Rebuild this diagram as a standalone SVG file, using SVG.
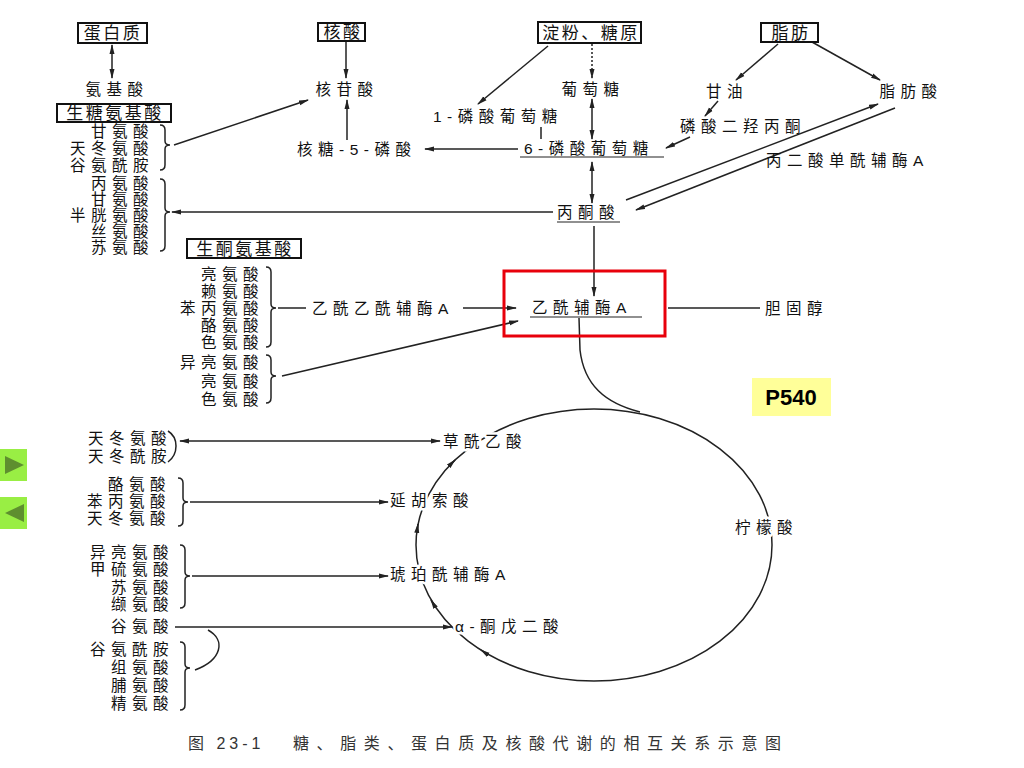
<svg xmlns="http://www.w3.org/2000/svg" width="1024" height="768" viewBox="0 0 1024 768">
<defs>
<style>
.t{font-family:"Liberation Sans","Noto Sans CJK SC","Noto Sans CJK JP",sans-serif;font-size:15.5px;letter-spacing:5.5px;fill:#111}
.b{font-family:"Liberation Sans","Noto Sans CJK SC","Noto Sans CJK JP",sans-serif;font-size:17px;letter-spacing:2.5px;fill:#111;text-anchor:middle}
.e{text-anchor:end}
.m{text-anchor:middle}
.k{stroke:#fff;stroke-width:5px;paint-order:stroke;stroke-linejoin:round}
.box{fill:#fff;stroke:#111;stroke-width:2}
.c{fill:none;stroke:#222;stroke-width:1.5}
.d{stroke-dasharray:2 2}
.ul{stroke:#222;stroke-width:1.2}
.cap{font-family:"Liberation Sans","Noto Sans CJK SC","Noto Sans CJK JP",sans-serif;font-size:16px;letter-spacing:7.6px;fill:#333}
.fig{letter-spacing:4px}
</style>
<marker id="a" viewBox="0 0 10 6" refX="9" refY="3" markerWidth="10" markerHeight="6" orient="auto-start-reverse" markerUnits="userSpaceOnUse"><path d="M0,0.5 L10,3 L0,5.5 z" fill="#222"/></marker>
</defs>
<rect width="1024" height="768" fill="#fff"/>

<g id="connectors">
<path class="c" d="M112,45 L112,78" marker-start="url(#a)" marker-end="url(#a)"/>
<path class="c" d="M346,42 L346,78" marker-end="url(#a)"/>
<path class="c" d="M347,140 L347,100" marker-end="url(#a)"/>
<path class="c" d="M174,145 L308,100" marker-end="url(#a)"/>
<path class="c" d="M518,149 L425,149" marker-end="url(#a)"/>
<path class="c" d="M548,46 L478,104" marker-end="url(#a)"/>
<path class="c d" d="M592,44 L592,78" marker-end="url(#a)"/>
<path class="c" d="M541,127 L541,139"/>
<path class="c" d="M592,99 L592,139" marker-start="url(#a)" marker-end="url(#a)"/>
<path class="c" d="M592,162 L592,203" marker-start="url(#a)" marker-end="url(#a)"/>
<path class="c" d="M594,226 L594,296" marker-end="url(#a)"/>
<path class="c" d="M778,44 L736,80" marker-end="url(#a)"/>
<path class="c" d="M812,42 L880,80" marker-end="url(#a)"/>
<path class="c" d="M718,101 L705,116" marker-end="url(#a)"/>
<path class="c" d="M690,137 L666,148" marker-end="url(#a)"/>
<path class="c" d="M626,200 L878,104" marker-end="url(#a)"/>
<path class="c" d="M895,108 L636,210" marker-end="url(#a)"/>
<path class="c" d="M553,212 L172,212" marker-end="url(#a)"/>
<path class="c" d="M278,308 L306,308"/>
<path class="c" d="M463,308 L516,308" marker-end="url(#a)"/>
<path class="c" d="M668,308 L760,308"/>
<path class="c" d="M282,376 L518,321" marker-end="url(#a)"/>
<path class="c" d="M579,318 L580,350 C584,385 605,403 640,412"/>
<ellipse class="c" cx="594" cy="545" rx="178" ry="136"/>
<path class="c" d="M450,465 L455,460" marker-end="url(#a)"/>
<path class="c" d="M417,531 L418,524" marker-end="url(#a)"/>
<path class="c" d="M434,605 L431,600" marker-end="url(#a)"/>
<path class="c" d="M487,654 L481,650" marker-end="url(#a)"/>
<path class="c" d="M440,441 L180,441" marker-start="url(#a)" marker-end="url(#a)"/>
<path class="c" d="M190,502 L388,502" marker-end="url(#a)"/>
<path class="c" d="M192,576 L388,576" marker-end="url(#a)"/>
<path class="c" d="M175,627 L452,627" marker-end="url(#a)"/>
<path class="c" d="M208,630 C226,640 222,660 195,670"/>
</g>

<g id="n-protein"><rect class="box" x="78" y="23" width="69" height="20"/><text class="b" x="113" y="39">蛋白质</text></g>
<g id="n-nucleic"><rect class="box" x="318" y="23" width="47" height="18"/><text class="b" x="343" y="38">核酸</text></g>
<g id="n-starch"><rect class="box" x="538" y="22" width="103" height="21"/><text class="b" x="591" y="39">淀粉、糖原</text></g>
<g id="n-fat"><rect class="box" x="761" y="23" width="57" height="19"/><text class="b" x="791" y="39">脂肪</text></g>

<g id="n-aa"><text class="t m" x="117" y="95">氨基酸</text></g>
<g id="n-nucleotide"><text class="t m" x="347" y="95">核苷酸</text></g>
<g id="n-glucose"><text class="t m" x="593" y="95">葡萄糖</text></g>
<g id="n-glycerol"><text class="t m" x="727" y="97">甘油</text></g>
<g id="n-fa"><text class="t m" x="911" y="97">脂肪酸</text></g>

<g id="n-glucogenic"><rect class="box" x="57" y="104" width="114" height="18"/><text class="b" x="115" y="119">生糖氨基酸</text></g>
<g id="n-gaa1">
<text class="t e" x="154" y="137">甘氨酸</text>
<text class="t e" x="154" y="154">天冬氨酸</text>
<text class="t e" x="154" y="171">谷氨酰胺</text>
<path class="c" d="M160,125 Q165,125 165,130 L165,141 Q165,145 170,145 Q165,145 165,149 L165,165 Q165,170 160,170"/>
</g>
<g id="n-gaa2">
<text class="t e" x="154" y="189">丙氨酸</text>
<text class="t e" x="154" y="205">甘氨酸</text>
<text class="t e" x="154" y="221">半胱氨酸</text>
<text class="t e" x="154" y="237">丝氨酸</text>
<text class="t e" x="154" y="253">苏氨酸</text>
<path class="c" d="M160,179 Q165,179 165,184 L165,208 Q165,212 170,212 Q165,212 165,216 L165,246 Q165,251 160,251"/>
</g>

<g id="n-g1p"><text class="t" x="433" y="122">1-磷酸葡萄糖</text></g>
<g id="n-dhap"><text class="t" x="680" y="132">磷酸二羟丙酮</text></g>
<g id="n-r5p"><text class="t" x="297" y="155">核糖-5-磷酸</text></g>
<g id="n-g6p"><text class="t" x="524" y="154">6-磷酸葡萄糖</text><line class="ul" x1="520" y1="157" x2="664" y2="157"/></g>
<g id="n-malonyl"><text class="t" x="766" y="166">丙二酸单酰辅酶A</text></g>
<g id="n-pyruvate"><text class="t" x="557" y="218">丙酮酸</text><line class="ul" x1="557" y1="222" x2="620" y2="222"/></g>

<g id="n-ketogenic"><rect class="box" x="187" y="239" width="114" height="19"/><text class="b" x="245" y="255">生酮氨基酸</text></g>
<g id="n-kaa1">
<text class="t e" x="264" y="280">亮氨酸</text>
<text class="t e" x="264" y="297">赖氨酸</text>
<text class="t e" x="264" y="314">苯丙氨酸</text>
<text class="t e" x="264" y="331">酪氨酸</text>
<text class="t e" x="264" y="348">色氨酸</text>
<path class="c" d="M266,267 Q271,267 271,272 L271,304 Q271,308 276,308 Q271,308 271,312 L271,342 Q271,347 266,347"/>
</g>
<g id="n-kaa2">
<text class="t e" x="264" y="368">异亮氨酸</text>
<text class="t e" x="264" y="387">亮氨酸</text>
<text class="t e" x="264" y="405">色氨酸</text>
<path class="c" d="M266,355 Q271,355 271,360 L271,372 Q271,376 276,376 Q271,376 271,380 L271,398 Q271,403 266,403"/>
</g>
<g id="n-acac"><text class="t" x="312" y="314">乙酰乙酰辅酶A</text></g>
<g id="n-acoa"><text class="t" x="532" y="313">乙酰辅酶A</text><line class="ul" x1="530" y1="317" x2="642" y2="317"/></g>
<g id="n-chol"><text class="t" x="765" y="314">胆固醇</text></g>

<g id="n-tca-oaa"><text class="t k" x="443" y="447">草酰乙酸</text></g>
<g id="n-tca-fum"><text class="t k" x="390" y="506">延胡索酸</text></g>
<g id="n-tca-suc"><text class="t k" x="390" y="580">琥珀酰辅酶A</text></g>
<g id="n-tca-akg"><text class="t k" x="455" y="632">α-酮戊二酸</text></g>
<g id="n-tca-cit"><text class="t k" x="735" y="533">柠檬酸</text></g>

<g id="n-asp">
<text class="t e" x="172" y="444">天冬氨酸</text>
<text class="t e" x="172" y="462">天冬酰胺</text>
<path class="c" d="M168,431 Q176,436 176,446 Q176,456 168,462"/>
</g>
<g id="n-faa">
<text class="t e" x="171" y="490">酪氨酸</text>
<text class="t e" x="171" y="507">苯丙氨酸</text>
<text class="t e" x="171" y="524">天冬氨酸</text>
<path class="c" d="M178,478 Q183,478 183,483 L183,498 Q183,502 188,502 Q183,502 183,506 L183,521 Q183,526 178,526"/>
</g>
<g id="n-saa">
<text class="t e" x="174" y="558">异亮氨酸</text>
<text class="t e" x="174" y="575">甲硫氨酸</text>
<text class="t e" x="174" y="593">苏氨酸</text>
<text class="t e" x="174" y="610">缬氨酸</text>
<path class="c" d="M180,545 Q185,545 185,550 L185,572 Q185,576 190,576 Q185,576 185,580 L185,603 Q185,608 180,608"/>
</g>
<g id="n-glu"><text class="t e" x="174" y="632">谷氨酸</text></g>
<g id="n-gaa3">
<text class="t e" x="174" y="655">谷氨酰胺</text>
<text class="t e" x="174" y="673">组氨酸</text>
<text class="t e" x="174" y="691">脯氨酸</text>
<text class="t e" x="174" y="709">精氨酸</text>
<path class="c" d="M180,642 Q185,642 185,647 L185,664 Q185,668 190,668 Q185,668 185,672 L185,705 Q185,710 180,710"/>
</g>

<g id="highlight"><rect x="504" y="271" width="161" height="65" fill="none" stroke="#e8000b" stroke-width="3"/></g>
<g id="page-tag"><rect x="752" y="378" width="79" height="38" fill="#ffff99"/><text x="791" y="405" text-anchor="middle" font-family="Liberation Sans, Arial, sans-serif" font-weight="bold" font-size="22" fill="#000">P540</text></g>
<g id="btn-next"><rect x="0" y="449" width="27" height="32" fill="#99ee44"/><polygon points="5,456 24,465 5,474" fill="#5e8f2f"/></g>
<g id="btn-prev"><rect x="0" y="497" width="27" height="32" fill="#99ee44"/><polygon points="24,504 5,513 24,522" fill="#5e8f2f"/></g>

<g id="caption">
<text class="cap fig" x="188" y="749">图 23-1</text>
<text class="cap" x="293" y="749">糖、脂类、蛋白质及核酸代谢的相互关系示意图</text>
</g>
</svg>
